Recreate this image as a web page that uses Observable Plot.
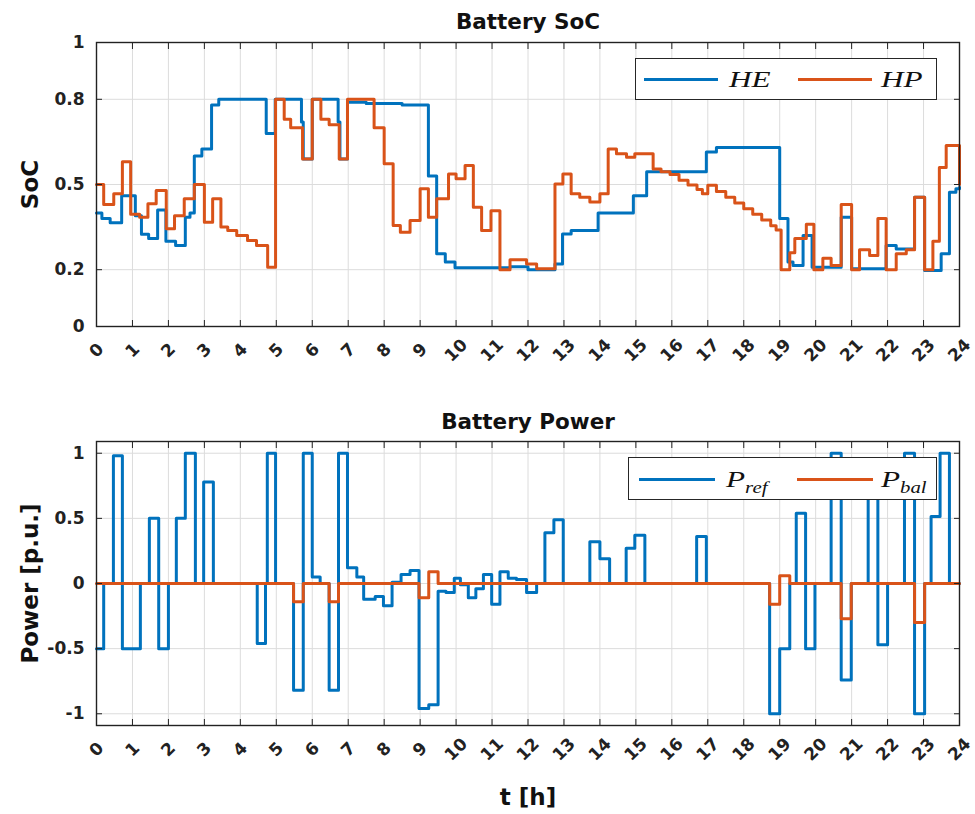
<!DOCTYPE html>
<html>
<head>
<meta charset="utf-8">
<script src="https://cdn.jsdelivr.net/npm/d3@7"></script>
<script src="https://cdn.jsdelivr.net/npm/@observablehq/plot@0.6"></script>
<style>
  body { margin: 0; background: #fff; }
  #fig { position: relative; width: 975px; height: 814px; overflow: hidden; font-family: "DejaVu Sans", sans-serif; }
  #fig svg { position: absolute; left: 0; }
  .legend { position: absolute; background: #fff; border: 1px solid #262626; box-sizing: border-box; }
  .legend .sw { position: absolute; height: 0; border-top: 3px solid; }
  .legend .lb { position: absolute; font-family: "Liberation Serif", serif; font-style: italic; font-size: 24px; line-height: 1; transform: scaleX(1.3); transform-origin: left center; white-space: nowrap; color: #111; }
  .legend .lb sub { font-size: 16px; vertical-align: -6px; }
</style>
</head>
<body>
<div id="fig"></div>
<script>
// Time axis (hours) and tick sets
const hours = d3.range(0, 25);
const socTicks = [0, 0.2, 0.5, 0.8, 1];
const powerTicks = [-1, -0.5, 0, 0.5, 1];

// State of charge, high-energy battery (step values, change times in h)
const heTime = [0,0.15,0.38,0.7,1.08,1.25,1.45,1.7,1.93,2.2,2.47,2.6,2.72,2.93,3.2,3.4,4.72,4.97,5.7,5.75,6.0,6.72,6.77,6.98,7.5,8.5,9.23,9.46,9.7,9.97,11.5,12.0,12.75,12.96,13.2,13.95,14.93,15.3,16.96,17.24,19.0,19.23,19.37,19.65,19.9,20.71,21.0,21.96,22.24,22.75,23.03,23.49,23.72,23.9,24];
const heSoc = [0.40,0.38,0.365,0.46,0.39,0.325,0.31,0.41,0.30,0.285,0.385,0.40,0.60,0.625,0.78,0.80,0.68,0.80,0.72,0.59,0.80,0.72,0.59,0.79,0.785,0.78,0.53,0.256,0.227,0.207,0.21,0.20,0.22,0.326,0.338,0.40,0.46,0.545,0.614,0.63,0.38,0.227,0.215,0.32,0.209,0.385,0.203,0.285,0.273,0.455,0.197,0.256,0.473,0.485,0.49];

// State of charge, high-power battery
const hpTime = [0,0.2,0.48,0.72,0.95,1.2,1.43,1.66,1.94,2.17,2.44,2.72,3.0,3.23,3.46,3.65,3.9,4.2,4.45,4.76,4.98,5.22,5.4,5.73,6.0,6.24,6.47,6.75,6.98,7.72,8.0,8.25,8.45,8.72,9.0,9.23,9.46,9.79,10.0,10.25,10.48,10.71,10.97,11.22,11.5,11.96,12.24,12.75,12.97,13.2,13.44,13.72,14.0,14.23,14.46,14.74,14.97,15.48,15.7,15.95,16.2,16.45,16.7,16.85,17.0,17.24,17.5,17.75,18.0,18.25,18.5,18.75,18.9,19.04,19.28,19.42,19.74,19.95,20.2,20.43,20.71,21.0,21.22,21.5,21.73,21.96,22.24,22.52,22.75,23.03,23.26,23.44,23.63,24];
const hpSoc = [0.50,0.43,0.467,0.58,0.395,0.385,0.432,0.479,0.344,0.39,0.45,0.50,0.367,0.45,0.35,0.338,0.32,0.303,0.285,0.209,0.80,0.73,0.70,0.59,0.80,0.73,0.71,0.59,0.80,0.70,0.573,0.356,0.332,0.373,0.485,0.385,0.45,0.537,0.52,0.567,0.42,0.338,0.408,0.20,0.235,0.22,0.203,0.502,0.537,0.467,0.455,0.438,0.467,0.625,0.608,0.596,0.608,0.555,0.545,0.535,0.515,0.498,0.482,0.467,0.497,0.475,0.455,0.435,0.415,0.395,0.375,0.355,0.34,0.20,0.26,0.31,0.36,0.20,0.24,0.215,0.43,0.20,0.27,0.25,0.38,0.20,0.256,0.27,0.455,0.20,0.30,0.56,0.637,0.50];

// Reference power set-point [p.u.]
const refTime = [0,0.2,0.47,0.72,1.22,1.47,1.73,2.0,2.22,2.47,2.75,2.98,3.25,4.47,4.7,4.75,4.98,5.48,5.75,6.0,6.22,6.47,6.73,6.98,7.24,7.43,7.75,7.98,8.22,8.47,8.72,8.97,9.24,9.5,9.72,9.95,10.12,10.34,10.55,10.76,10.99,11.22,11.45,11.68,11.96,12.24,12.47,12.72,12.98,13.72,14.0,14.27,14.73,14.97,15.25,16.69,16.96,18.72,19.0,19.28,19.46,19.72,19.98,20.43,20.71,20.99,21.46,21.73,22.0,22.47,22.75,23.03,23.21,23.46,23.72,24];
const refPower = [-0.5,0,0.98,-0.5,0,0.5,-0.5,0,0.5,1.0,0,0.78,0,-0.46,0,1.0,0,-0.82,1.0,0.05,0,-0.82,1.0,0.12,0.05,-0.12,-0.1,-0.17,0.01,0.07,0.1,-0.96,-0.93,-0.06,-0.07,0.04,-0.01,-0.11,-0.04,0.07,-0.16,0.09,0.04,0.03,-0.07,0,0.39,0.49,0,0.32,0.19,0,0.27,0.37,0,0.36,0,-1.0,-0.5,0,0.54,-0.5,0,1.0,-0.74,0,0.85,-0.47,0,1.0,-1.0,0,0.515,1.0,0,0];

// Balancing power [p.u.]
const balTime = [0,5.48,5.75,6.47,6.73,8.97,9.24,9.5,18.72,19.0,19.28,20.71,20.99,22.75,23.03,24];
const balPower = [0,-0.14,0,-0.14,0,-0.11,0.09,0,-0.16,0.06,0,-0.27,0,-0.3,0,0];

const BLUE = "#0072BD", ORANGE = "#D95319";
const zip = (ts, vs) => ts.map((t, i) => ({t, v: vs[i]}));

const fig = document.getElementById("fig");

function panel({top, height, marginTop, marginBottom, yDomain, yTicks, yFormat, series, title, titleDy, ylabel, xlabel, legend}) {
  const width = 975;
  const marks = [
    Plot.gridX(hours, {stroke: "#dcdcdc", strokeOpacity: 1}),
    Plot.gridY(yTicks, {stroke: "#dcdcdc", strokeOpacity: 1}),
    ...series.map(s => Plot.line(s.data, {x: "t", y: "v", curve: "step-after", stroke: s.color, strokeWidth: 3, strokeLinejoin: "round", strokeLinecap: "round"})),
    Plot.frame({stroke: "#222", strokeWidth: 1.4}),
    // inward tick marks on all four sides
    Plot.axisX(hours, {anchor: "bottom", tickSize: 6, dy: -6, fill: "none", label: null, stroke: "#222"}),
    Plot.axisX(hours, {anchor: "top", tickSize: 6, dy: 6, fill: "none", label: null, stroke: "#222"}),
    Plot.axisY(yTicks, {anchor: "left", tickSize: 6, dx: 6, fill: "none", label: null, stroke: "#222"}),
    Plot.axisY(yTicks, {anchor: "right", tickSize: 6, dx: -6, fill: "none", label: null, stroke: "#222"}),
    // tick labels
    Plot.axisX(hours, {anchor: "bottom", tickSize: 0, tickPadding: 24, tickRotate: -45, textAnchor: "middle", lineAnchor: "middle", label: null, fontSize: 17, fontWeight: "bold", fill: "#222"}),
    Plot.axisY(yTicks, {anchor: "left", tickSize: 0, tickPadding: 12, tickFormat: yFormat, label: null, fontSize: 17, fontWeight: "bold", fill: "#222"}),
    Plot.text([title], {text: d => d, frameAnchor: "top", textAnchor: "middle", lineAnchor: "middle", dy: titleDy, fontSize: 21.5, fontWeight: "bold", fill: "#111"}),
    Plot.text([ylabel], {text: d => d, frameAnchor: "left", textAnchor: "middle", lineAnchor: "middle", dx: -66, rotate: -90, fontSize: 23, fontWeight: "bold", fill: "#111"})
  ];
  if (xlabel) marks.push(Plot.text([xlabel], {text: d => d, frameAnchor: "bottom", textAnchor: "middle", lineAnchor: "middle", dy: 72, fontSize: 23, fontWeight: "bold", fill: "#111"}));
  const chart = Plot.plot({
    width, height,
    marginLeft: 96, marginRight: 16, marginTop, marginBottom,
    style: {fontFamily: "'DejaVu Sans', sans-serif", background: "transparent", overflow: "visible"},
    x: {domain: [0, 24]},
    y: {domain: yDomain},
    marks
  });
  chart.style.top = top + "px";
  fig.appendChild(chart);

  // legend box inside the axes
  const box = document.createElement("div");
  box.className = "legend";
  Object.assign(box.style, {left: legend.left + "px", top: legend.top + "px", width: legend.width + "px", height: legend.height + "px"});
  series.forEach((s, i) => {
    const sw = document.createElement("span");
    sw.className = "sw";
    Object.assign(sw.style, {left: legend.swatchX[i] + "px", top: (legend.height / 2 - 2) + "px", width: legend.swatchW + "px", borderColor: s.color});
    const lb = document.createElement("span");
    lb.className = "lb";
    lb.innerHTML = s.label;
    Object.assign(lb.style, {left: legend.labelX[i] + "px", top: (legend.height / 2 - 13) + "px"});
    box.append(sw, lb);
  });
  fig.appendChild(box);
}

panel({
  top: 0, height: 400, marginTop: 42, marginBottom: 74,
  yDomain: [0, 1], yTicks: socTicks, yFormat: d => String(d),
  series: [
    {data: zip(heTime, heSoc), color: BLUE, label: "HE"},
    {data: zip(hpTime, hpSoc), color: ORANGE, label: "HP"}
  ],
  title: "Battery SoC", titleDy: -20, ylabel: "SoC",
  legend: {left: 635, top: 58, width: 302, height: 42, swatchX: [8, 162], swatchW: 74, labelX: [93, 245]}
});

panel({
  top: 400, height: 414, marginTop: 41, marginBottom: 89,
  yDomain: [-1.09, 1.09], yTicks: powerTicks, yFormat: d => String(d),
  series: [
    {data: zip(refTime, refPower), color: BLUE, label: "P<sub>ref</sub>"},
    {data: zip(balTime, balPower), color: ORANGE, label: "P<sub>bal</sub>"}
  ],
  title: "Battery Power", titleDy: -19, ylabel: "Power [p.u.]", xlabel: "t [h]",
  legend: {left: 628, top: 457, width: 309, height: 43, swatchX: [10, 168], swatchW: 76, labelX: [97, 252]}
});
</script>
</body>
</html>
